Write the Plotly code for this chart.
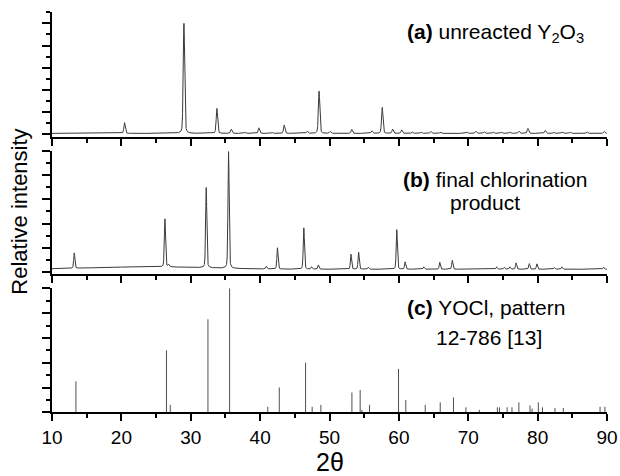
import numpy as np
import plotly.graph_objects as go

# ---------------- data ----------------
# (a) unreacted Y2O3 : peak positions (deg 2theta) and heights (relative units)
a_pos = [20.46, 29.02, 33.77, 35.84, 37.85, 39.83, 41.7, 43.47, 46.8, 48.5, 50.1,
         53.2, 56.1, 57.6, 59.1, 60.4, 61.9, 63.2, 64.6, 66.0, 69.8, 71.1, 72.3,
         73.6, 74.8, 76.0, 77.3, 78.6, 81.1, 82.3, 83.6, 84.7, 87.1, 89.6]
a_int = [9.6, 99.2, 22.5, 3.9, 0.9, 5.0, 0.9, 7.5, 2.0, 38.1, 1.8,
         3.6, 2.3, 23.4, 3.9, 3.2, 1.5, 1.2, 1.8, 1.2, 1.2, 2.1, 1.5,
         1.2, 1.2, 1.2, 2.0, 4.5, 2.7, 1.2, 1.2, 1.2, 1.5, 1.8]
a_background = 0.8

# (b) final chlorination product
b_pos = [13.21, 26.28, 26.8, 32.23, 35.45, 40.88, 42.5, 46.3, 47.4, 48.4,
         53.1, 54.2, 55.6, 59.7, 60.9, 63.6, 65.9, 67.7, 74.1, 75.2, 76.0,
         76.9, 78.8, 79.9, 82.4, 83.5, 89.5]
b_int = [12.6, 39.5, 2.0, 66.0, 96.0, 2.2, 17.5, 34.0, 2.0, 3.5,
         12.3, 14.0, 1.7, 32.5, 6.0, 2.0, 5.7, 7.3, 2.0, 1.7, 2.0,
         5.2, 4.6, 4.4, 1.3, 2.0, 1.7]
b_background = 2.5
b_hump_center, b_hump_height, b_hump_sigma = 24.0, 2.0, 8.0

# (c) YOCl reference pattern 12-786 (stick pattern)
c_pos = [13.45, 26.5, 27.05, 32.48, 35.6, 41.1, 42.76, 46.55, 47.5, 48.76,
         53.23, 54.42, 54.67, 55.77, 59.95, 61.0, 63.8, 65.96, 67.87, 69.66,
         71.6, 74.2, 74.5, 75.6, 76.3, 77.3, 78.9, 79.2, 80.1, 80.7, 82.5,
         83.7, 89.0, 89.7]
c_int = [25, 50, 6, 75, 100, 4.5, 20, 40, 4.5, 6,
         16, 18, 2, 6, 35, 10, 6, 8, 12, 4,
         2, 4, 4, 4, 4, 8, 5.6, 3, 8, 4, 3.5,
         3.5, 4.5, 4.5]

x_ticks = [10, 20, 30, 40, 50, 60, 70, 80, 90]

# ---------------- build profiles ----------------
tt = np.arange(10, 90.0001, 0.01)


def profile(pos, hts, fwhm, eta=0.3):
    y = np.zeros_like(tt)
    for p, h in zip(pos, hts):
        d2 = (tt - p) ** 2 / fwhm ** 2
        y += h * (eta / (1 + 4 * d2) + (1 - eta) * np.exp(-4 * np.log(2) * d2))
    return y


ya = a_background + profile(a_pos, a_int, 0.24)
yb = (b_background
      + b_hump_height * np.exp(-(tt - b_hump_center) ** 2 / (2 * b_hump_sigma ** 2))
      + profile(b_pos, b_int, 0.2))

sx, sy = [], []
for p, h in zip(c_pos, c_int):
    sx += [p, p, None]
    sy += [0, h, None]

FONT = "Liberation Sans, Arial, Helvetica, sans-serif"
LINE = "#3a3a3a"

fig = go.Figure()
fig.add_trace(go.Scatter(x=tt, y=ya, mode="lines", line=dict(color=LINE, width=1),
                         xaxis="x3", yaxis="y3", hoverinfo="skip"))
fig.add_trace(go.Scatter(x=tt, y=yb, mode="lines", line=dict(color=LINE, width=1),
                         xaxis="x2", yaxis="y2", hoverinfo="skip"))
fig.add_trace(go.Scatter(x=sx, y=sy, mode="lines", line=dict(color="#505050", width=1),
                         xaxis="x", yaxis="y", hoverinfo="skip"))

H = 476.0


def dom(top_px, bot_px):
    return [1 - bot_px / H, 1 - top_px / H]


def xax(anchor, labels):
    return dict(range=[10, 90], anchor=anchor, showline=True, linecolor="black",
                linewidth=2, ticks="outside", tickmode="array", tickvals=x_ticks,
                ticklen=7, tickwidth=1.5, tickcolor="black",
                minor=dict(ticks="outside", tick0=5, dtick=10, ticklen=4,
                           tickwidth=1.5, tickcolor="black", showgrid=False),
                showgrid=False, zeroline=False, showticklabels=labels,
                tickfont=dict(family=FONT, size=19, color="black"))


def yax(anchor, rng, domain):
    return dict(range=rng, domain=domain, anchor=anchor, showline=True,
                linecolor="black", linewidth=2, ticks="outside", tick0=0, dtick=20,
                ticklen=8, tickwidth=1.5, tickcolor="black",
                minor=dict(ticks="outside", tick0=0, dtick=10, ticklen=4.5,
                           tickwidth=1.5, tickcolor="black", showgrid=False),
                showgrid=False, zeroline=False, showticklabels=False)


fig.update_layout(
    width=620, height=476,
    margin=dict(l=52, r=13, t=0, b=0),
    paper_bgcolor="white", plot_bgcolor="white",
    showlegend=False,
    font=dict(family=FONT, color="black"),
    xaxis=xax("y", True),
    xaxis2=xax("y2", False),
    xaxis3=xax("y3", False),
    yaxis=yax("x", [0, 100], dom(288.3, 412.3)),
    yaxis2=yax("x2", [-1.5, 100], dom(150.7, 274.1)),
    yaxis3=yax("x3", [-2, 110], dom(12.3, 136.5)),
)

ANN_SIZE = 21
ann = [
    dict(text="<b>(a)</b> unreacted Y<sub>2</sub>O<sub>3</sub>", x=86.97, xref="x3",
         xanchor="right", y=1 - 33 / H),
    dict(text="<b>(b)</b> final chlorination", x=60.3, xref="x2", xanchor="left",
         y=1 - 179 / H),
    dict(text="product", x=72.4, xref="x2", xanchor="center", y=1 - 202 / H),
    dict(text="<b>(c)</b> YOCl, pattern", x=60.9, xref="x", xanchor="left",
         y=1 - 307 / H),
    dict(text="12-786 [13]", x=73.06, xref="x", xanchor="center", y=1 - 337 / H),
]
for a in ann:
    fig.add_annotation(text=a["text"], x=a["x"], xref=a["xref"], xanchor=a["xanchor"],
                       y=a["y"], yref="paper", yanchor="middle", showarrow=False,
                       font=dict(family=FONT, size=ANN_SIZE, color="black"))

fig.add_annotation(text="Relative intensity", x=(20 - 52) / 555.0, xref="paper",
                   xanchor="center", y=1 - 211.7 / H, yref="paper", yanchor="middle",
                   textangle=-90, showarrow=False,
                   font=dict(family=FONT, size=22, color="black"))
fig.add_annotation(text="2θ", x=0.5, xref="paper", xanchor="center",
                   y=1 - 462 / H, yref="paper", yanchor="middle", showarrow=False,
                   font=dict(family=FONT, size=25, color="black"))

fig.write_html("out.html")
